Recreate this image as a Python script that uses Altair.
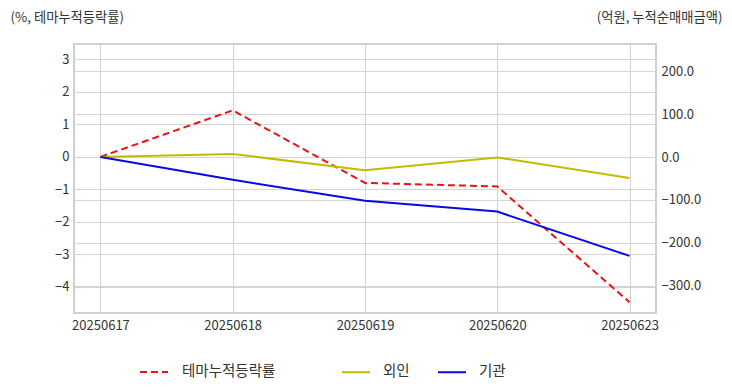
import altair as alt
import pandas as pd

dates = ["20250617", "20250618", "20250619", "20250620", "20250623"]
theme_rate = [0.0, 1.43, -0.80, -0.91, -4.47]      # %, left axis
foreign_amt = [0.0, 7.0, -31.0, -1.0, -49.0]       # 억원, right axis
inst_amt = [0.0, -53.0, -102.0, -127.0, -230.0]    # 억원, right axis

series_names = ["테마누적등락률", "외인", "기관"]
series_colors = ["#e81414", "#c4bb00", "#0a0ae0"]

left_ticks = [-4, -3, -2, -1, 0, 1, 2, 3]
right_ticks = [-300, -200, -100, 0, 100, 200]

FONT = "Noto Sans CJK KR"

df_left = pd.DataFrame({"date": dates, "value": theme_rate, "series": series_names[0],
                        "dash_key": series_names[0]})
df_right = pd.DataFrame({
    "date": dates + dates,
    "value": foreign_amt + inst_amt,
    "series": [series_names[1]] * len(dates) + [series_names[2]] * len(dates),
})

x_enc = alt.X(
    "date:O",
    sort=dates,
    scale=alt.Scale(type="point", padding=0.2),
    axis=alt.Axis(title=None, labelAngle=0, grid=True, ticks=False, domain=False,
                  labelPadding=6),
)
color_enc = alt.Color(
    "series:N",
    scale=alt.Scale(domain=series_names, range=series_colors),
    legend=alt.Legend(title=None, values=series_names[1:], orient="none", legendX=267,
                      legendY=313, direction="horizontal", labelOffset=12, columnPadding=24),
)
dash_enc = alt.StrokeDash(
    "dash_key:N",
    scale=alt.Scale(domain=series_names[:1], range=[[7, 4]]),
    legend=alt.Legend(title=None, orient="none", legendX=65, legendY=313,
                      direction="horizontal", symbolStrokeColor=series_colors[0],
                      labelOffset=13),
)

left = alt.Chart(df_left).mark_line(strokeWidth=2).encode(
    x=x_enc,
    y=alt.Y("value:Q", scale=alt.Scale(domain=[-4.8, 3.47], nice=False, zero=False),
            axis=alt.Axis(orient="left", values=left_ticks, format="d", title="(%, 테마누적등락률)",
                          titleAngle=0, titleX=-64, titleY=-27, titleAlign="left",
                          titleBaseline="middle", grid=True, ticks=False, domain=False,
                          labelPadding=5)),
    color=color_enc,
    strokeDash=dash_enc,
)

right = alt.Chart(df_right).mark_line(strokeWidth=2).encode(
    x=x_enc,
    y=alt.Y("value:Q", scale=alt.Scale(domain=[-362.8, 262.8], nice=False, zero=False),
            axis=alt.Axis(orient="right", values=right_ticks, format=".1f",
                          title="(억원, 누적순매매금액)", titleAngle=0, titleX=66, titleY=-27,
                          titleAlign="right", titleBaseline="middle", grid=True, ticks=False,
                          domain=False, labelPadding=5)),
    color=color_enc,
)

chart = alt.layer(left, right).resolve_scale(y="independent").properties(
    width=582,
    height=269,
    autosize=alt.AutoSizeParams(type="none"),
    padding={"left": 66, "top": 36, "right": 68, "bottom": 71},
).configure_view(
    stroke="#d0d0d0", strokeWidth=2
).configure_axis(
    labelFont=FONT, labelFontSize=13, labelColor="#333333",
    titleFont=FONT, titleFontSize=13.3, titleColor="#333333", titleFontWeight="normal",
    gridColor="#d4d4d4", gridWidth=1,
).configure_legend(
    labelFont=FONT, labelFontSize=14.5, labelColor="#333333",
    symbolType="stroke", symbolSize=784, symbolStrokeWidth=2,
    padding=0,
)

chart.save("out.html", embed_options={"renderer": "svg", "actions": False})
